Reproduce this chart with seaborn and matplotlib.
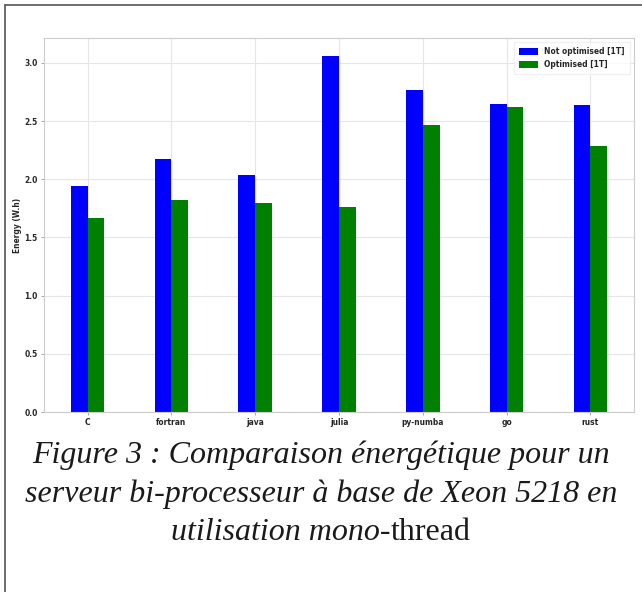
import matplotlib
matplotlib.use('Agg')
import matplotlib.pyplot as plt
from matplotlib.lines import Line2D
import seaborn as sns
import pandas as pd

# values
languages = ['C', 'fortran', 'java', 'julia', 'py-numba', 'go', 'rust']
not_optimised = [1.94, 2.17, 2.04, 3.06, 2.77, 2.65, 2.64]
optimised = [1.67, 1.82, 1.80, 1.76, 2.47, 2.62, 2.29]
series_names = ['Not optimised [1T]', 'Optimised [1T]']
y_ticks = [0.0, 0.5, 1.0, 1.5, 2.0, 2.5, 3.0]

df = pd.DataFrame({
    'language': languages * 2,
    'energy': not_optimised + optimised,
    'series': [series_names[0]] * len(languages) + [series_names[1]] * len(languages),
})

sns.set_style('whitegrid')
plt.rcParams['font.family'] = ['DejaVu Sans']

fig = plt.figure(figsize=(6.42, 5.92), dpi=100)
ax = fig.add_axes([0.0685, 0.304, 0.919, 0.632])

sns.barplot(data=df, x='language', y='energy', hue='series',
            palette=['#0000ff', '#008000'], width=0.4, gap=0,
            linewidth=0, saturation=1, ax=ax)

ax.set_xlim(-0.52, 6.52)
ax.set_ylim(0, 3.215)
ax.set_yticks(y_ticks)
ax.set_yticklabels([f'{v:.1f}' for v in y_ticks])
ax.set_xlabel('')
ax.set_ylabel('Energy (W.h)', fontsize=6, fontweight='bold', labelpad=2)
ax.tick_params(axis='both', labelsize=6, length=2.5, width=0.6,
               color='#999999', pad=2, left=True, bottom=True)
for lab in ax.get_xticklabels() + ax.get_yticklabels():
    lab.set_fontweight('bold')
    lab.set_fontstretch('condensed')
ax.yaxis.label.set_fontstretch('condensed')

ax.grid(True, color='#e6e6e6', linewidth=0.8)
ax.set_axisbelow(True)
for sp in ax.spines.values():
    sp.set_color('#cccccc')
    sp.set_linewidth(0.8)

leg = ax.legend(loc='upper right', fontsize=6, frameon=True,
                handlelength=2.2, handleheight=0.9, borderpad=0.6,
                labelspacing=0.5, fancybox=False)
leg.get_frame().set_edgecolor('#eeeeee')
for t in leg.get_texts():
    t.set_fontweight('bold')
    t.set_fontstretch('condensed')

# caption below the chart
cap = dict(fontsize=23, family='Liberation Serif', color='#1a1a1a')
fig.text(0.5, 1 - 455 / 592, 'Figure 3 : Comparaison énergétique pour un',
         ha='center', va='center', style='italic', **cap)
fig.text(0.5, 1 - 494 / 592, 'serveur bi-processeur à base de Xeon 5218 en',
         ha='center', va='center', style='italic', **cap)

y3 = 1 - 532 / 592
t_it = fig.text(0.5, y3, 'utilisation mono-', ha='right', va='center',
                style='italic', **cap)
t_rm = fig.text(0.5, y3, 'thread', ha='left', va='center', **cap)
renderer = fig.canvas.get_renderer()
w_it = t_it.get_window_extent(renderer).width / fig.bbox.width
w_rm = t_rm.get_window_extent(renderer).width / fig.bbox.width
shift = (w_it - w_rm) / 2
t_it.set_x(0.5 + shift)
t_rm.set_x(0.5 + shift)

# page frame (left and top edges)
fig.add_artist(Line2D([5 / 642, 5 / 642], [0, 1 - 5 / 592],
                      transform=fig.transFigure, color='#555555', lw=1.2))
fig.add_artist(Line2D([5 / 642, 1], [1 - 5 / 592, 1 - 5 / 592],
                      transform=fig.transFigure, color='#555555', lw=1.2))

fig.savefig('out.png', dpi=100)
